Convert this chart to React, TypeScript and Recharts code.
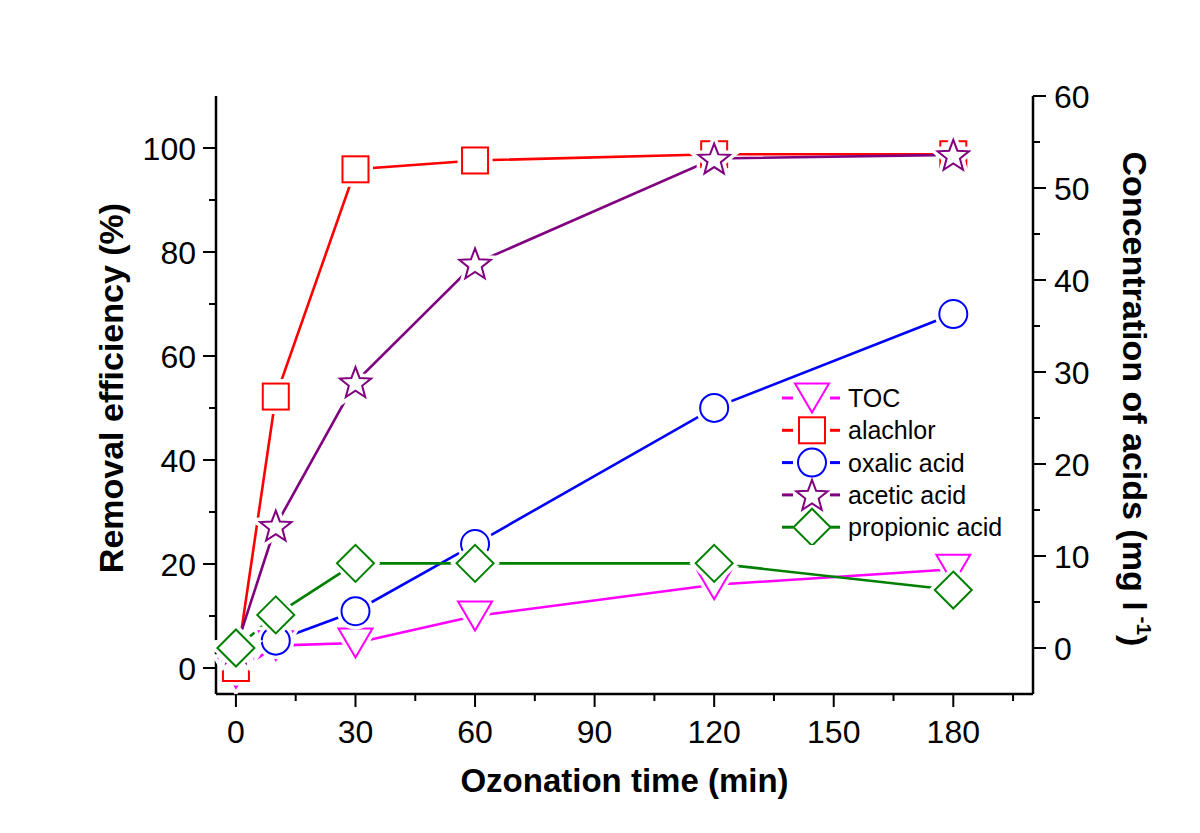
import React from 'react';
import { ComposedChart, Line, XAxis, YAxis } from 'recharts';

// ozonation time (min)
const TIME = [0, 10, 30, 60, 120, 180];

// removal efficiency (%), left axis
const TOC = [-1, 4.3, 4.8, 10, 16, 19];
const ALACHLOR = [0, 52.2, 95.9, 97.6, 98.8, 98.8];

// acid concentrations (mg/l), right axis
const OXALIC = [0, 0.8, 4.0, 11.3, 26.1, 36.3];
const ACETIC = [0, 13.3, 28.9, 41.8, 53.2, 53.6];
const PROPIONIC = [0, 3.6, 9.2, 9.2, 9.2, 6.3];

const X_MAJOR = [0, 30, 60, 90, 120, 150, 180];
const X_MINOR = [15, 45, 75, 105, 135, 165, 195];
const LEFT_MAJOR = [0, 20, 40, 60, 80, 100];
const LEFT_MINOR = [10, 30, 50, 70, 90];
const RIGHT_MAJOR = [0, 10, 20, 30, 40, 50, 60];
const RIGHT_MINOR = [5, 15, 25, 35, 45, 55];

const FONT = '"Liberation Sans", Arial, Helvetica, sans-serif';

type Shape = 'triangle' | 'square' | 'circle' | 'star' | 'diamond';

const SERIES: { key: string; name: string; color: string; shape: Shape; axis: string }[] = [
  { key: 'toc', name: 'TOC', color: '#ff00ff', shape: 'triangle', axis: 'left' },
  { key: 'alachlor', name: 'alachlor', color: '#ff0000', shape: 'square', axis: 'left' },
  { key: 'oxalic', name: 'oxalic acid', color: '#0000ff', shape: 'circle', axis: 'right' },
  { key: 'acetic', name: 'acetic acid', color: '#800080', shape: 'star', axis: 'right' },
  { key: 'propionic', name: 'propionic acid', color: '#008000', shape: 'diamond', axis: 'right' },
];

const data = TIME.map((t, i) => ({
  t,
  toc: TOC[i],
  alachlor: ALACHLOR[i],
  oxalic: OXALIC[i],
  acetic: ACETIC[i],
  propionic: PROPIONIC[i],
}));

const starPoints = (cx: number, cy: number, R: number, r: number) => {
  const pts: string[] = [];
  for (let k = 0; k < 10; k++) {
    const rad = k % 2 === 0 ? R : r;
    const a = -Math.PI / 2 + (k * Math.PI) / 5;
    pts.push(`${cx + rad * Math.cos(a)},${cy + rad * Math.sin(a)}`);
  }
  return pts.join(' ');
};

const Marker = ({ shape, color, cx, cy, halo }: { shape: Shape; color: string; cx: number; cy: number; halo?: boolean }) => {
  const st = halo
    ? { fill: '#ffffff', stroke: '#ffffff', strokeWidth: 9 }
    : { fill: 'none', stroke: color, strokeWidth: 2 };
  switch (shape) {
    case 'triangle':
      return <polygon points={`${cx - 17},${cy - 14.5} ${cx + 17},${cy - 14.5} ${cx},${cy + 14.5}`} {...st} strokeLinejoin="miter" />;
    case 'square':
      return <rect x={cx - 13} y={cy - 13} width={26} height={26} {...st} />;
    case 'circle':
      return <circle cx={cx} cy={cy} r={14} {...st} />;
    case 'diamond':
      return <polygon points={`${cx},${cy - 18.5} ${cx + 18.5},${cy} ${cx},${cy + 18.5} ${cx - 18.5},${cy}`} {...st} />;
    default:
      return <polygon points={starPoints(cx, cy + 1.5, 16.5, 7)} {...st} />;
  }
};

const makeDot = (shape: Shape, color: string) => (props: any) => {
  const { cx, cy, index } = props;
  return (
    <g key={`${shape}-${index}`}>
      <Marker shape={shape} color={color} cx={cx} cy={cy} halo />
      <Marker shape={shape} color={color} cx={cx} cy={cy} />
    </g>
  );
};

const BottomTick = (props: any) => {
  const { x, y, payload } = props;
  const major = X_MAJOR.includes(payload.value);
  return (
    <g>
      <line x1={x} x2={x} y1={y} y2={y + (major ? 13 : 7)} stroke="#000" strokeWidth={2} />
      {major && (
        <text x={x} y={y + 49} textAnchor="middle" fontSize={32} fontFamily={FONT} fill="#000">
          {payload.value}
        </text>
      )}
    </g>
  );
};

const TopTick = (props: any) => {
  const { x, y, payload } = props;
  const major = X_MAJOR.includes(payload.value);
  return <line x1={x} x2={x} y1={y} y2={y + (major ? 11 : 6)} stroke="#000" strokeWidth={2} />;
};

const LeftTick = (props: any) => {
  const { x, y, payload } = props;
  const major = LEFT_MAJOR.includes(payload.value);
  return (
    <g>
      <line x1={x - (major ? 13 : 7)} x2={x} y1={y} y2={y} stroke="#000" strokeWidth={2} />
      {major && (
        <text x={x - 20} y={y + 11.5} textAnchor="end" fontSize={32} fontFamily={FONT} fill="#000">
          {payload.value}
        </text>
      )}
    </g>
  );
};

const RightTick = (props: any) => {
  const { x, y, payload } = props;
  const major = RIGHT_MAJOR.includes(payload.value);
  return (
    <g>
      <line x1={x} x2={x + (major ? 13 : 7)} y1={y} y2={y} stroke="#000" strokeWidth={2} />
      {major && (
        <text x={x + 21} y={y + 11.5} textAnchor="start" fontSize={32} fontFamily={FONT} fill="#000">
          {payload.value}
        </text>
      )}
    </g>
  );
};

const Legend = () => (
  <svg width={260} height={170} style={{ position: 'absolute', left: 770, top: 375 }}>
    {SERIES.map((s, i) => {
      const cy = 23 + i * 32.3;
      return (
        <g key={s.key}>
          <line x1={12} x2={23} y1={cy} y2={cy} stroke={s.color} strokeWidth={3} />
          <line x1={60} x2={70} y1={cy} y2={cy} stroke={s.color} strokeWidth={3} />
          <Marker shape={s.shape} color={s.color} cx={42} cy={cy} />
          <text x={78} y={cy + 9} fontSize={25} fontFamily={FONT} fill="#000">
            {s.name}
          </text>
        </g>
      );
    })}
  </svg>
);

export default function App() {
  const axisLine = { stroke: '#000', strokeWidth: 2.5 };
  return (
    <div style={{ position: 'absolute', left: 0, top: 0, width: 1200, height: 833, background: '#fff' }}>
      <ComposedChart width={1200} height={833} data={data} margin={{ top: 96, right: 0, bottom: 0, left: 0 }}>
        <XAxis
          xAxisId="bottom"
          dataKey="t"
          type="number"
          domain={[-5, 200]}
          ticks={[...X_MAJOR, ...X_MINOR].sort((a, b) => a - b)}
          interval={0}
          height={139}
          tickSize={0}
          tickMargin={0}
          tickLine={false}
          axisLine={axisLine}
          tick={BottomTick}
          label={{
            content: (p: any) => (
              <text x={p.viewBox.x + p.viewBox.width / 2} y={p.viewBox.y + 98} textAnchor="middle" fontSize={33} fontWeight="bold" fontFamily={FONT} fill="#000">
                Ozonation time (min)
              </text>
            ),
          }}
        />
        <XAxis
          xAxisId="top"
          orientation="top"
          dataKey="t"
          type="number"
          domain={[-5, 200]}
          ticks={[...X_MAJOR, ...X_MINOR].sort((a, b) => a - b)}
          interval={0}
          height={0}
          tickSize={0}
          tickMargin={0}
          tickLine={false}
          axisLine={axisLine}
          tick={TopTick}
        />
        <YAxis
          yAxisId="left"
          type="number"
          domain={[-5, 110]}
          ticks={[...LEFT_MAJOR, ...LEFT_MINOR].sort((a, b) => a - b)}
          interval={0}
          width={216}
          tickSize={0}
          tickMargin={0}
          tickLine={false}
          axisLine={axisLine}
          tick={LeftTick}
          label={{
            content: () => (
              <text x={123} y={388} transform="rotate(-90 123 388)" textAnchor="middle" fontSize={34} fontWeight="bold" fontFamily={FONT} fill="#000">
                Removal efficiency (%)
              </text>
            ),
          }}
        />
        <YAxis
          yAxisId="right"
          orientation="right"
          type="number"
          domain={[-5, 60]}
          ticks={[...RIGHT_MAJOR, ...RIGHT_MINOR].sort((a, b) => a - b)}
          interval={0}
          width={167}
          tickSize={0}
          tickMargin={0}
          tickLine={false}
          axisLine={axisLine}
          tick={RightTick}
          label={{
            content: () => (
              <text x={1123} y={399} transform="rotate(90 1123 399)" textAnchor="middle" fontSize={34} fontWeight="bold" fontFamily={FONT} fill="#000">
                Concentration of acids (mg l
                <tspan fontSize={21} dy={-14}> -1</tspan>
                <tspan dy={14}>)</tspan>
              </text>
            ),
          }}
        />
        {SERIES.map((s) => (
          <Line
            key={`line-${s.key}`}
            xAxisId="bottom"
            yAxisId={s.axis}
            type="linear"
            dataKey={s.key}
            stroke={s.color}
            strokeWidth={2.6}
            dot={false}
            activeDot={false}
            isAnimationActive={false}
          />
        ))}
        {SERIES.map((s) => (
          <Line
            key={`dots-${s.key}`}
            xAxisId="bottom"
            yAxisId={s.axis}
            type="linear"
            dataKey={s.key}
            stroke="none"
            strokeWidth={0}
            dot={makeDot(s.shape, s.color)}
            activeDot={false}
            isAnimationActive={false}
          />
        ))}
      </ComposedChart>
      <Legend />
    </div>
  );
}
